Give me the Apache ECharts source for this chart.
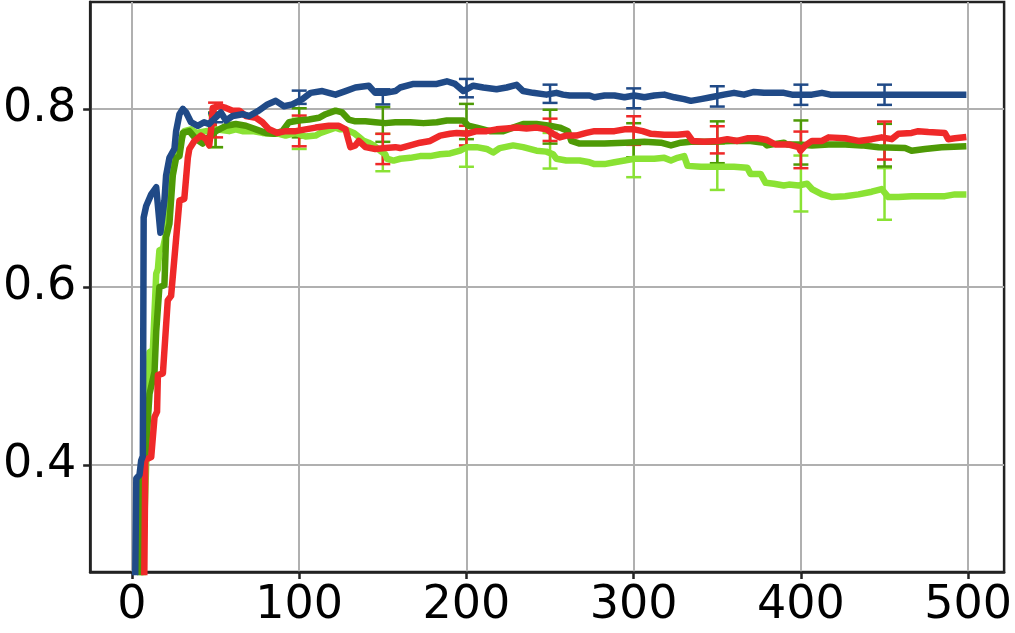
<!DOCTYPE html>
<html>
<head>
<meta charset="utf-8">
<script src="https://cdn.jsdelivr.net/npm/echarts@6/dist/echarts.min.js"></script>
<style>
html,body{margin:0;padding:0;background:#fff;}
#chart{width:1015px;height:633px;}
</style>
</head>
<body>
<div id="chart"></div>
<script>
// ---- data ----
const xTicks = [0, 100, 200, 300, 400, 500];
const yTicks = [0.4, 0.6, 0.8];

const blueLine = [[1.5,0.20],[2.6,0.385],[4.5,0.389],[5.5,0.405],[6.5,0.41],[7.0,0.678],[8.5,0.691],[11.5,0.704],[14.5,0.712],[17.0,0.661],[19.4,0.697],[20.4,0.725],[22.4,0.745],[25.4,0.755],[26.4,0.775],[28.4,0.794],[30.4,0.800],[32.4,0.796],[35.3,0.785],[39.3,0.781],[43.1,0.785],[46,0.783],[48.3,0.787],[53.2,0.796],[56.2,0.787],[60.2,0.792],[66.1,0.794],[70.1,0.792],[75.8,0.798],[81,0.805],[86,0.809],[90.9,0.803],[95.9,0.805],[101.9,0.811],[106.8,0.818],[113.8,0.820],[117.7,0.818],[121.7,0.816],[127.7,0.820],[133.6,0.824],[141.6,0.826],[145.5,0.818],[151.5,0.818],[157.5,0.820],[160.4,0.824],[168.4,0.828],[174.3,0.828],[182.3,0.828],[188.3,0.831],[193.2,0.828],[198.1,0.820],[204.1,0.826],[210.1,0.824],[218,0.822],[224,0.824],[230,0.827],[233.9,0.820],[239.8,0.818],[247.8,0.816],[253.8,0.818],[257.7,0.816],[261.7,0.815],[267.7,0.815],[273.6,0.815],[276.6,0.813],[282.6,0.815],[288.5,0.815],[294.5,0.813],[300.4,0.815],[306.4,0.813],[312.3,0.815],[318.3,0.816],[324.3,0.813],[330.2,0.811],[334.2,0.809],[340.2,0.811],[346.1,0.813],[354,0.816],[360,0.818],[366,0.816],[371.9,0.819],[377.9,0.818],[383.8,0.818],[389.8,0.818],[394.7,0.816],[406.6,0.816],[412.6,0.818],[417.6,0.816],[420.6,0.816],[497,0.816]];

const redLine = [[7.0,0.20],[8.0,0.406],[11.5,0.409],[13.5,0.454],[15.0,0.46],[15.5,0.501],[18.5,0.503],[21.4,0.585],[23.4,0.590],[24.4,0.59],[28.4,0.697],[31.3,0.699],[33.4,0.745],[34.3,0.755],[37.3,0.764],[41.3,0.770],[44.3,0.766],[46.2,0.759],[47.5,0.780],[48.3,0.801],[52.2,0.803],[56.2,0.801],[60.2,0.798],[64.1,0.798],[68.1,0.792],[74.1,0.790],[78,0.785],[82,0.777],[87,0.773],[91.9,0.775],[97.9,0.775],[103.8,0.777],[109.8,0.779],[117.7,0.781],[123.7,0.781],[127.7,0.777],[130.6,0.757],[133.6,0.759],[135.6,0.764],[139.6,0.757],[145.5,0.755],[151.5,0.756],[157.5,0.757],[160.4,0.756],[166.4,0.759],[172.3,0.762],[178.3,0.764],[184.3,0.770],[190.2,0.772],[194.2,0.773],[200.2,0.772],[206.1,0.775],[212.1,0.775],[218,0.777],[224,0.778],[230,0.779],[235.9,0.778],[241.9,0.779],[247.8,0.777],[251.8,0.772],[255.8,0.768],[259.7,0.770],[265.7,0.770],[271.7,0.773],[276.6,0.775],[282.6,0.775],[288.5,0.775],[294.5,0.777],[300.4,0.777],[305.4,0.775],[310.4,0.772],[318.3,0.771],[326.2,0.771],[332.2,0.772],[335.2,0.764],[342.1,0.763],[350.1,0.764],[356,0.766],[362,0.764],[367.9,0.767],[373.9,0.767],[379.8,0.765],[384.8,0.760],[392.8,0.760],[398.7,0.757],[399.7,0.753],[402.7,0.759],[406.6,0.764],[412.6,0.764],[416.6,0.768],[426.5,0.767],[434.5,0.764],[442.4,0.766],[448.3,0.768],[454.3,0.766],[458.3,0.772],[466.2,0.773],[470.2,0.775],[476.2,0.774],[486.1,0.773],[488.1,0.766],[492.1,0.767],[497,0.768]];

const darkGreenLine = [[4.5,0.20],[5.5,0.38],[8,0.41],[9,0.436],[10.5,0.48],[13.5,0.505],[14.5,0.55],[16.4,0.600],[19.4,0.602],[20.4,0.656],[22.4,0.671],[24.4,0.725],[26.4,0.745],[28.4,0.747],[30.4,0.773],[34.3,0.775],[38.3,0.766],[42.3,0.761],[44.3,0.766],[50.2,0.775],[56.2,0.781],[62.1,0.783],[68.1,0.781],[74.1,0.777],[80,0.773],[85,0.772],[89.9,0.775],[93.9,0.785],[99.8,0.787],[105.8,0.788],[111.8,0.790],[115.8,0.794],[121.7,0.798],[125.7,0.796],[129.6,0.788],[133.6,0.786],[139.6,0.786],[145.5,0.785],[151.5,0.784],[157.5,0.785],[166.4,0.785],[174.3,0.784],[182.3,0.785],[188.3,0.787],[198.1,0.787],[201.1,0.781],[206.1,0.779],[214,0.775],[222,0.775],[227.9,0.779],[233.9,0.783],[241.9,0.783],[249.8,0.781],[255.8,0.779],[260.7,0.775],[262.7,0.764],[267.7,0.761],[273.6,0.761],[282.6,0.761],[294.5,0.762],[306.4,0.763],[316.3,0.762],[322.3,0.759],[328.2,0.762],[334.2,0.763],[346.1,0.763],[358,0.764],[369.9,0.764],[377.9,0.762],[379.8,0.759],[385.8,0.761],[389.8,0.762],[391.8,0.760],[398.7,0.760],[406.6,0.759],[416.6,0.760],[426.5,0.760],[436.4,0.759],[446.4,0.757],[462.3,0.756],[466.2,0.753],[474.2,0.755],[484.1,0.757],[497,0.758]];

const lightGreenLine = [[5,0.20],[8.5,0.40],[9.5,0.462],[10.5,0.527],[12.5,0.529],[14.5,0.615],[15.5,0.62],[16.4,0.641],[18.5,0.643],[20.4,0.66],[23.4,0.723],[25.4,0.749],[28.4,0.760],[31.3,0.775],[35.3,0.777],[38.3,0.773],[44.3,0.775],[50.2,0.777],[58.1,0.775],[62.1,0.777],[66.1,0.775],[72.1,0.775],[78,0.773],[84,0.772],[87.9,0.772],[91.9,0.770],[97.9,0.773],[103.8,0.769],[109.8,0.770],[112.8,0.773],[115.8,0.775],[121.7,0.779],[124.7,0.777],[127.7,0.777],[132.6,0.773],[136,0.768],[138.6,0.764],[141.6,0.762],[144.5,0.759],[148.5,0.753],[151.5,0.749],[152.5,0.744],[156.4,0.742],[160.4,0.744],[166.4,0.745],[172.3,0.747],[178.3,0.747],[184.3,0.749],[190.2,0.750],[196.2,0.753],[200.2,0.757],[206.1,0.757],[212.1,0.755],[216,0.751],[220,0.756],[227.9,0.759],[233.9,0.757],[241.9,0.753],[247.8,0.752],[251.8,0.749],[253.8,0.744],[259.7,0.742],[267.7,0.742],[273.6,0.740],[276.6,0.738],[282.6,0.738],[288.5,0.740],[294.5,0.742],[300.4,0.744],[306.4,0.744],[312.3,0.744],[318.3,0.745],[322.3,0.742],[326.2,0.745],[330.2,0.747],[332.2,0.736],[340.2,0.735],[350,0.735],[360,0.735],[367.9,0.734],[369.9,0.727],[375.9,0.727],[378.9,0.717],[383.8,0.716],[389.8,0.714],[392.8,0.715],[398.7,0.714],[403.7,0.716],[406.6,0.710],[412.6,0.704],[418.6,0.701],[426.5,0.702],[434.5,0.704],[442.4,0.707],[448.3,0.710],[452.3,0.701],[458.3,0.701],[466.2,0.702],[476.2,0.702],[486.1,0.702],[492.1,0.704],[497,0.704]];

// error bars: [x, low, high]
const blueErr = [[50,0.785,0.795],[100,0.8056,0.8205],[150,0.805,0.822],[200,0.813,0.8336],[250,0.8067,0.8272],[300,0.8007,0.823],[350,0.8026,0.8254],[400,0.8045,0.8272],[450,0.8045,0.8272]];
const redErr = [[50,0.768,0.807],[100,0.758,0.7925],[150,0.738,0.772],[200,0.759,0.781],[250,0.764,0.789],[300,0.7596,0.7917],[350,0.750,0.7805],[400,0.7334,0.7745],[450,0.7431,0.7858]];
const darkGreenErr = [[50,0.757,0.796],[100,0.768,0.8007],[150,0.763,0.802],[200,0.766,0.8056],[250,0.761,0.799],[300,0.7457,0.7839],[350,0.739,0.786],[400,0.7375,0.787],[450,0.7353,0.7832]];
const lightGreenErr = [[50,0.757,0.793],[100,0.755,0.789],[150,0.730,0.772],[200,0.735,0.775],[250,0.733,0.773],[300,0.7233,0.7607],[350,0.709,0.761],[400,0.6848,0.7476],[450,0.6755,0.7335]];

// ---- styles ----
const C = {blue:'#204a87', red:'#ef2929', dg:'#4e9a06', lg:'#8ae234'};
const FONT = 'DejaVu Sans';
const X_MIN = -25, X_MAX = 521.5, Y_MIN = 0.28, Y_MAX = 0.92;

function lineSeries(data, color) {
  return {type:'line', data:data, showSymbol:false, symbol:'none', animation:false,
    lineStyle:{color:color, width:6.5, cap:'square', join:'round'}, clip:true};
}
function errSeries(data, color) {
  return {type:'custom', data:data, animation:false, clip:true,
    renderItem:function(params, api){
      const x = api.value(0), lo = api.value(1), hi = api.value(2);
      const a = api.coord([x, lo]), b = api.coord([x, hi]);
      const hw = 7.5, st = {stroke:color, lineWidth:2.5};
      return {type:'group', children:[
        {type:'line', shape:{x1:a[0], y1:a[1], x2:b[0], y2:b[1]}, style:st},
        {type:'line', shape:{x1:a[0]-hw, y1:a[1], x2:a[0]+hw, y2:a[1]}, style:st},
        {type:'line', shape:{x1:b[0]-hw, y1:b[1], x2:b[0]+hw, y2:b[1]}, style:st}
      ]};
    }};
}

const chart = echarts.init(document.getElementById('chart'), null, {renderer:'canvas'});
chart.setOption({
  animation:false,
  backgroundColor:'#ffffff',
  grid:{left:89, right:9, top:2, bottom:61, show:true, borderColor:'#222222', borderWidth:2.5, backgroundColor:'transparent'},
  xAxis:{type:'value', min:X_MIN, max:X_MAX, minInterval:100, maxInterval:100,
    axisLine:{show:true, onZero:false, lineStyle:{color:'#222', width:2.5}},
    axisTick:{show:true, inside:false, length:7, lineStyle:{color:'#222', width:2.5}, customValues:xTicks},
    axisLabel:{show:true, margin:11, fontFamily:FONT, fontSize:46, color:'#000', customValues:xTicks,
      formatter:function(v){ return String(v); }},
    splitLine:{show:true, lineStyle:{color:'#b0b0b0', width:2}}
  },
  yAxis:{type:'value', min:Y_MIN, max:Y_MAX, minInterval:0.2, maxInterval:0.2,
    axisLine:{show:true, onZero:false, lineStyle:{color:'#222', width:2.5}},
    axisTick:{show:true, inside:false, length:7, lineStyle:{color:'#222', width:2.5}, customValues:yTicks},
    axisLabel:{show:true, margin:14, fontFamily:FONT, fontSize:46, color:'#000', customValues:yTicks,
      formatter:function(v){ return v.toFixed(1); }},
    splitLine:{show:true, lineStyle:{color:'#b0b0b0', width:2}}
  },
  series:[
    lineSeries(lightGreenLine, C.lg), errSeries(lightGreenErr, C.lg),
    lineSeries(darkGreenLine, C.dg), errSeries(darkGreenErr, C.dg),
    lineSeries(redLine, C.red), errSeries(redErr, C.red),
    lineSeries(blueLine, C.blue), errSeries(blueErr, C.blue)
  ]
});
</script>
</body>
</html>
